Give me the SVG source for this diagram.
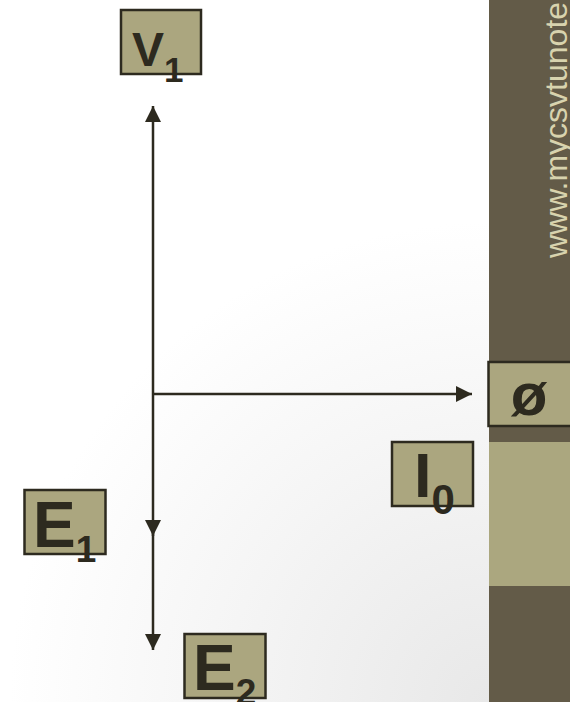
<svg xmlns="http://www.w3.org/2000/svg" width="570" height="702" viewBox="0 0 570 702">
<style>
.box{fill:#ABA67F;stroke:#2D2A1F;stroke-width:2.5}
.lbl{font-family:"Liberation Sans",Arial,sans-serif;font-weight:bold;fill:#2D2A1F}
.ln{stroke:#2D2A1F;stroke-width:2.5;fill:none}
</style>
<defs>
<radialGradient id="bg" cx="489" cy="702" r="480" gradientUnits="userSpaceOnUse">
<stop offset="0" stop-color="#e8e8e8"/>
<stop offset="0.55" stop-color="#f5f5f5"/>
<stop offset="1" stop-color="#ffffff"/>
</radialGradient>
<marker id="ah" viewBox="0 0 16 16" refX="16" refY="8" markerWidth="16" markerHeight="16" markerUnits="userSpaceOnUse" orient="auto">
<path d="M0,0 L16,8 L0,16 Z" fill="#2D2A1F"/>
</marker>
</defs>
<rect x="0" y="0" width="570" height="702" fill="url(#bg)"/>
<g id="band">
<rect x="489" y="0" width="81" height="702" fill="#635B48"/>
<rect x="489" y="442" width="81" height="144" fill="#ABA77F"/>
<text transform="translate(566.5,258) rotate(-90)" font-family="Liberation Sans,Arial,sans-serif" font-size="32" fill="#D8D3AE">www.mycsvtunote</text>
</g>
<g id="connectors">
<line class="ln" x1="153" y1="394" x2="153" y2="106" marker-end="url(#ah)"/>
<line class="ln" x1="153" y1="394" x2="472" y2="394" marker-end="url(#ah)"/>
<line class="ln" x1="153" y1="394" x2="153" y2="536" marker-end="url(#ah)"/>
<line class="ln" x1="153" y1="530" x2="153" y2="650" marker-end="url(#ah)"/>
</g>
<g id="V1">
<rect class="box" x="121" y="10" width="80" height="64"/>
<text class="lbl" x="132" y="65.5" font-size="48">V<tspan font-size="35" dy="16">1</tspan></text>
</g>
<g id="phi">
<rect class="box" x="488.5" y="362" width="84" height="64"/>
<text class="lbl" x="529" y="415" font-size="60" text-anchor="middle">ø</text>
</g>
<g id="I0">
<rect class="box" x="392" y="442" width="81" height="64"/>
<text class="lbl" x="414" y="497" font-size="63">I<tspan font-size="42" dy="17">0</tspan></text>
</g>
<g id="E1">
<rect class="box" x="24.5" y="490" width="81" height="64"/>
<text class="lbl" x="33" y="547" font-size="64">E<tspan font-size="37" dy="15">1</tspan></text>
</g>
<g id="E2">
<rect class="box" x="184.5" y="634" width="81" height="64"/>
<text class="lbl" x="193" y="690" font-size="64">E<tspan font-size="37" dy="15">2</tspan></text>
</g>
</svg>
